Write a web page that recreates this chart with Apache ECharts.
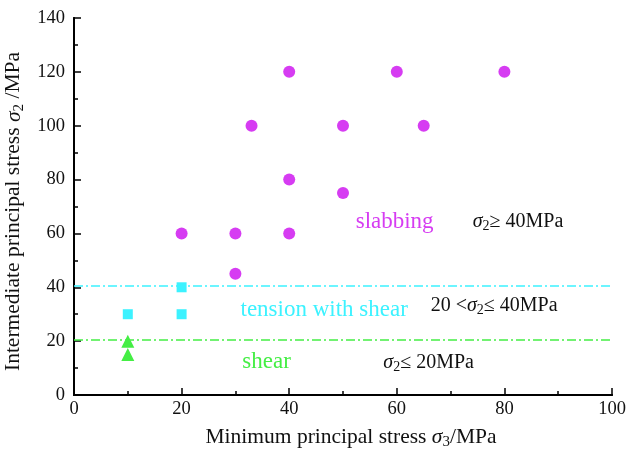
<!DOCTYPE html>
<html>
<head>
<meta charset="utf-8">
<script src="https://cdn.jsdelivr.net/npm/echarts@6/dist/echarts.min.js"></script>
<style>
html,body{margin:0;padding:0;background:#fff;}
#chart{width:627px;height:456px;}
</style>
</head>
<body>
<div id="chart"></div>
<script>
// Failure modes in the (σ3, σ2) stress plane
const slabbingPoints = [[20,60],[30,60],[30,45],[33,100],[40,120],[40,80],[40,60],[50,100],[50,75],[60,120],[65,100],[80,120]];
const tensionShearPoints = [[10,30],[20,30],[20,40]];
const shearPoints = [[10,20],[10,15]];
const boundaryUpper = 40.6;
const boundaryLower = 20.6;
const xTicks = [0,20,40,60,80,100];
const yTicks = [0,20,40,60,80,100,120,140];

const FONT = '"Liberation Serif","Times New Roman",serif';
const MAGENTA = '#d63cf2';
const CYAN = '#3cf2ff';
const GREEN = '#44ee44';

function sigmaRich(size) {
  return {
    s: {fontFamily: FONT, fontStyle: 'italic', fontSize: size, color: '#111'},
    sub: {fontFamily: FONT, fontSize: Math.round(size * 0.7), color: '#111', verticalAlign: 'bottom', padding: [Math.round(size * 0.45),0,0,0]},
    t: {fontFamily: FONT, fontSize: size, color: '#111'}
  };
}

function textLabel(x, y, text, color, align, size) {
  return {
    value: [x, y],
    symbol: 'circle', symbolSize: 1,
    itemStyle: {color: 'transparent', opacity: 1},
    label: {
      show: true, position: 'inside', formatter: text, align: align || 'center',
      verticalAlign: 'middle', opacity: 1,
      fontFamily: FONT, fontSize: size, color: color, rich: sigmaRich(size)
    }
  };
}

const chart = echarts.init(document.getElementById('chart'));
chart.setOption({
  animation: false,
  backgroundColor: '#fff',
  grid: {left: 74, right: 15, top: 18, bottom: 61, containLabel: false, outerBoundsMode: 'none'},
  xAxis: [{
    type: 'value', min: 0, max: 100, interval: 20,
    name: '{t|Minimum principal stress }{s|σ}{sub|3}{t|/MPa}',
    nameLocation: 'middle', nameGap: 30,
    nameTextStyle: {rich: sigmaRich(21.5), padding: [0, 0, 0, 16]},
    axisLine: {show: true, onZero: false, lineStyle: {color: '#000', width: 2}},
    axisTick: {show: true, inside: true, length: 7, lineStyle: {color: '#000', width: 1.5}},
    minorTick: {show: true, splitNumber: 2, length: 4, lineStyle: {color: '#000', width: 1.5}},
    axisLabel: {fontFamily: FONT, fontSize: 18.5, color: '#111', margin: 5, formatter: v => xTicks.includes(v) ? String(v) : ''},
    splitLine: {show: false}
  }, {
    type: 'value', min: 0, max: 100, position: 'top',
    axisLine: {show: true, lineStyle: {color: '#000', width: 2}},
    axisTick: {show: false}, axisLabel: {show: false}, splitLine: {show: false}
  }],
  yAxis: [{
    type: 'value', min: 0, max: 140, interval: 20,
    name: '{t|Intermediate principal stress }{s|σ}{sub|2}{t| /MPa}',
    nameLocation: 'middle', nameGap: 43, nameRotate: 90,
    nameTextStyle: {rich: sigmaRich(21.5), padding: [0, 10, 0, 0]},
    axisLine: {show: true, onZero: false, lineStyle: {color: '#000', width: 2}},
    axisTick: {show: true, inside: true, length: 7, lineStyle: {color: '#000', width: 1.5}},
    minorTick: {show: true, splitNumber: 2, length: 4, lineStyle: {color: '#000', width: 1.5}},
    axisLabel: {fontFamily: FONT, fontSize: 18.5, color: '#111', margin: 9, formatter: v => yTicks.includes(v) ? String(v) : ''},
    splitLine: {show: false}
  }, {
    type: 'value', min: 0, max: 140, position: 'right',
    axisLine: {show: true, lineStyle: {color: '#000', width: 2}},
    axisTick: {show: false}, axisLabel: {show: false}, splitLine: {show: false}
  }],
  series: [
    {
      name: 'boundaries', type: 'line', data: [], silent: true,
      markLine: {
        symbol: 'none', silent: true, label: {show: false},
        data: [
          {yAxis: boundaryUpper, lineStyle: {color: CYAN, width: 1.5, type: [9,3,2,3]}},
          {yAxis: boundaryLower, lineStyle: {color: GREEN, width: 1.5, type: [9,3,2,3]}}
        ]
      }
    },
    {
      name: 'slabbing', type: 'scatter', data: slabbingPoints,
      symbol: 'circle', symbolSize: 12, itemStyle: {color: MAGENTA, opacity: 1}
    },
    {
      name: 'tension with shear', type: 'scatter', data: tensionShearPoints,
      symbol: 'rect', symbolSize: 10, itemStyle: {color: CYAN, opacity: 1}
    },
    {
      name: 'shear', type: 'scatter', data: shearPoints,
      symbol: 'triangle', symbolSize: 13, itemStyle: {color: GREEN, opacity: 1}
    },
    {
      name: 'annotations', type: 'scatter', silent: true, z: 5,
      itemStyle: {opacity: 1},
      data: [
        textLabel(59.6, 64.2, 'slabbing', MAGENTA, 'center', 23),
        textLabel(74.1, 64.2, '{s|σ}{sub|2}{t|≥ 40MPa}', '#111', 'left', 20),
        textLabel(46.5, 31.6, 'tension with shear', CYAN, 'center', 23),
        textLabel(66.3, 33.0, '{t|20 <}{s|σ}{sub|2}{t|≤ 40MPa}', '#111', 'left', 20),
        textLabel(35.8, 12.3, 'shear', GREEN, 'center', 23),
        textLabel(57.5, 11.9, '{s|σ}{sub|2}{t|≤ 20MPa}', '#111', 'left', 20)
      ]
    }
  ]
});
</script>
</body>
</html>
